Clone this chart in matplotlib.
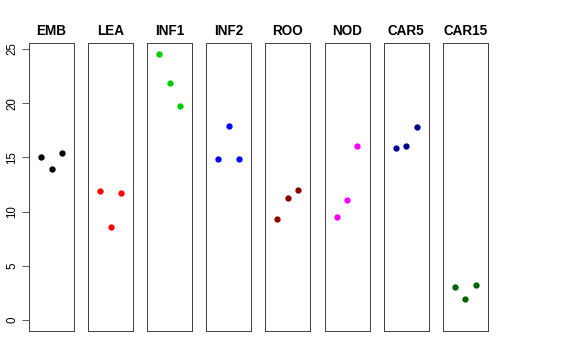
import matplotlib
matplotlib.use('Agg')
import matplotlib.pyplot as plt

# sample groups and their values (3 replicates each)
groups = ['EMB', 'LEA', 'INF1', 'INF2', 'ROO', 'NOD', 'CAR5', 'CAR15']
values = {
    'EMB': [15.0, 13.9, 15.4],
    'LEA': [11.9, 8.6, 11.7],
    'INF1': [24.5, 21.9, 19.7],
    'INF2': [14.9, 17.9, 14.9],
    'ROO': [9.3, 11.25, 12.0],
    'NOD': [9.5, 11.1, 16.1],
    'CAR5': [15.9, 16.1, 17.8],
    'CAR15': [3.1, 1.95, 3.25],
}
colors = ['black', 'red', '#00CD00', 'blue', '#8B0000', 'magenta', '#00008B', '#006400']
replicates = [1, 2, 3]
yticks = [0, 5, 10, 15, 20, 25]

plt.rcParams['font.family'] = ['Liberation Sans', 'DejaVu Sans']
fig = plt.figure(figsize=(8, 5), dpi=72)

W, H = 576, 360
left0, step, pw = 29, 59.1, 45
top, bottom = 43, 331

for i, g in enumerate(groups):
    x0 = left0 + i * step
    ax = fig.add_axes([x0 / W, 1 - bottom / H, pw / W, (bottom - top) / H])
    ax.scatter(replicates, values[g], color=colors[i], s=40, linewidths=0)
    ax.set_xlim(-0.16, 4.16)
    ax.set_ylim(-1.0, 25.55)
    ax.set_xticks([])
    for s in ax.spines.values():
        s.set_color('#444444')
        s.set_linewidth(1.0)
    ax.set_title(g, fontsize=13.5, fontweight='bold', pad=8)
    if i == 0:
        ax.set_yticks(yticks)
        ax.set_yticklabels([str(t) for t in yticks], rotation=90, va='center', fontsize=11.5)
        ax.tick_params(axis='y', length=7, width=0.8, color='#333333', pad=4)
    else:
        ax.set_yticks([])

fig.savefig('out.png', dpi=72)
